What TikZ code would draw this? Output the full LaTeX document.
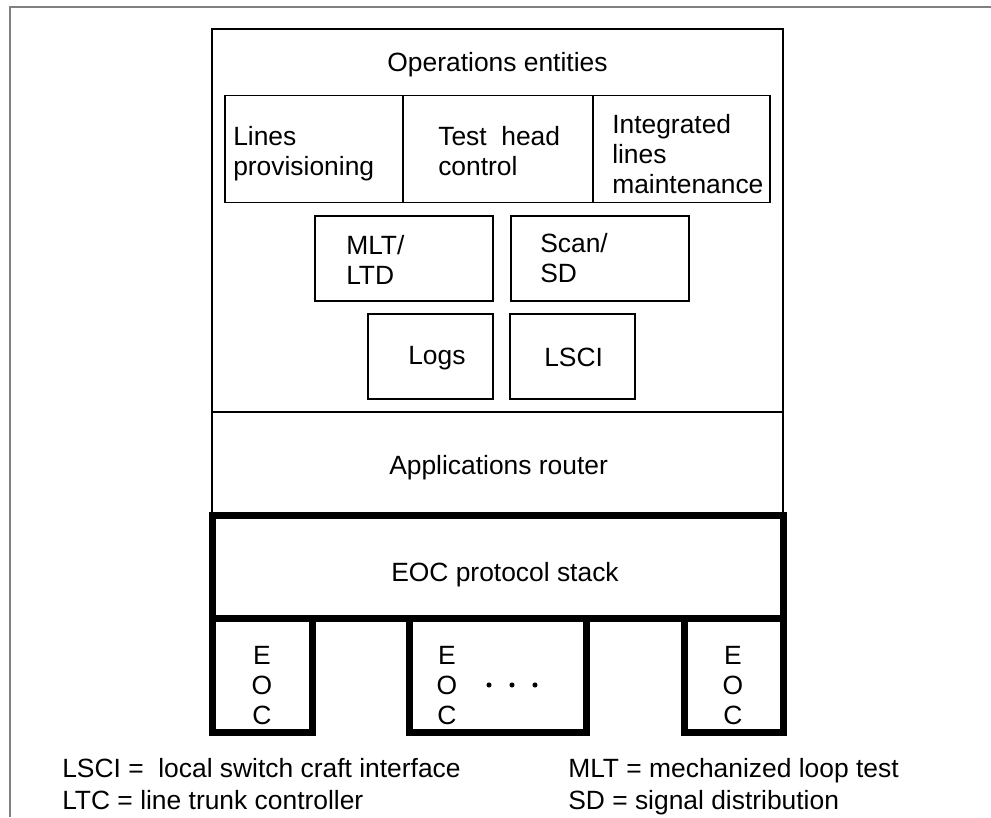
\documentclass[tikz,border=0pt]{standalone}
\usepackage{fontspec}
\setmainfont{Liberation Sans}
\usetikzlibrary{fit}
\begin{document}
\begin{tikzpicture}[x=0.75pt,y=-0.75pt,
  thinbox/.style={draw, line width=1.2pt, inner sep=0pt},
  thickline/.style={draw, line width=5.25pt, line join=miter},
  txt/.style={inner sep=0pt, font=\fontsize{19.8pt}{22.5pt}\selectfont, align=left},
  ctxt/.style={inner sep=0pt, font=\fontsize{19.8pt}{22.5pt}\selectfont, align=center},
  frame/.style={draw=gray, line width=1.3pt}
]
\useasboundingbox (0,0) rectangle (991,817);
% outer frame
\draw[frame] (10,817) -- (10,7) -- (991,7);

% main box
\node[thinbox, fit={(212,29) (783,515)}] (main) {};
\coordinate (divL) at (212,412);
\coordinate (divR) at (783,412);
\draw[line width=1.2pt] (divL) -- (divR);
\node[txt, anchor=base] (opent) at (497.5,71) {Operations entities};

% row of three boxes
\node[thinbox, fit={(225,95.5) (403,202.5)}] (lpbox) {};
\node[thinbox, fit={(403,95.5) (593,202.5)}] (thbox) {};
\node[thinbox, fit={(593,95.5) (770,202.5)}] (ilbox) {};
% (multi-line nodes: base = baseline of last line)
\node[txt, anchor=base west] (lptxt) at (233,175) {Lines\\provisioning};
\node[txt, anchor=base west] (thtxt) at (438,175) {Test~~head\\control};
\node[txt, anchor=base west] (iltxt) at (612,193) {Integrated\\lines\\maintenance};

% MLT / Scan
\node[thinbox, fit={(315,216) (493,301)}] (mltbox) {};
\node[thinbox, fit={(511,216) (689,301)}] (scanbox) {};
\node[txt, anchor=base west] (mlttxt) at (346,284) {MLT/\\LTD};
\node[txt, anchor=base west] (scantxt) at (540,282) {Scan/\\SD};

% Logs / LSCI
\node[thinbox, fit={(368,314) (493,399)}] (logbox) {};
\node[thinbox, fit={(510,314) (635,399)}] (lscibox) {};
\node[txt, anchor=base west] (logtxt) at (408,364) {Logs};
\node[txt, anchor=base west] (lscitxt) at (544,366) {LSCI};

% applications router
\node[txt, anchor=base west] (artxt) at (389,474) {Applications router};

% EOC protocol stack
\node[draw, line width=5.25pt, inner sep=0pt, fit={(212,515) (783,618)}] (stack) {};
\node[txt, anchor=base west] (stacktxt) at (391,581) {EOC protocol stack};

% EOC boxes
\coordinate (e1a) at (212,618); \coordinate (e1b) at (212,732);
\coordinate (e1c) at (312,732); \coordinate (e1d) at (312,618);
\draw[thickline] (e1a) -- (e1b) -- (e1c) -- (e1d);
\coordinate (e2a) at (409.5,618); \coordinate (e2b) at (409.5,732);
\coordinate (e2c) at (586,732); \coordinate (e2d) at (586,618);
\draw[thickline] (e2a) -- (e2b) -- (e2c) -- (e2d);
\coordinate (e3a) at (684,618); \coordinate (e3b) at (684,732);
\coordinate (e3c) at (783,732); \coordinate (e3d) at (783,618);
\draw[thickline] (e3a) -- (e3b) -- (e3c) -- (e3d);

\node[ctxt, anchor=base] (eoc1) at (262,724) {E\\O\\C};
\node[ctxt, anchor=base] (eoc2) at (447,724) {E\\O\\C};
\node[ctxt, anchor=base] (eoc3) at (733,724) {E\\O\\C};

\fill (489,685) circle[radius=1.9pt];
\fill (512,685) circle[radius=1.9pt];
\fill (535,685) circle[radius=1.9pt];

% legend
\node[txt, anchor=base west] (leg1) at (62,777) {LSCI =~~local switch craft interface};
\node[txt, anchor=base west] (leg2) at (62,809) {LTC = line trunk controller};
\node[txt, anchor=base west] (leg3) at (568,777) {MLT = mechanized loop test};
\node[txt, anchor=base west] (leg4) at (568,809) {SD = signal distribution};
\end{tikzpicture}
\end{document}
